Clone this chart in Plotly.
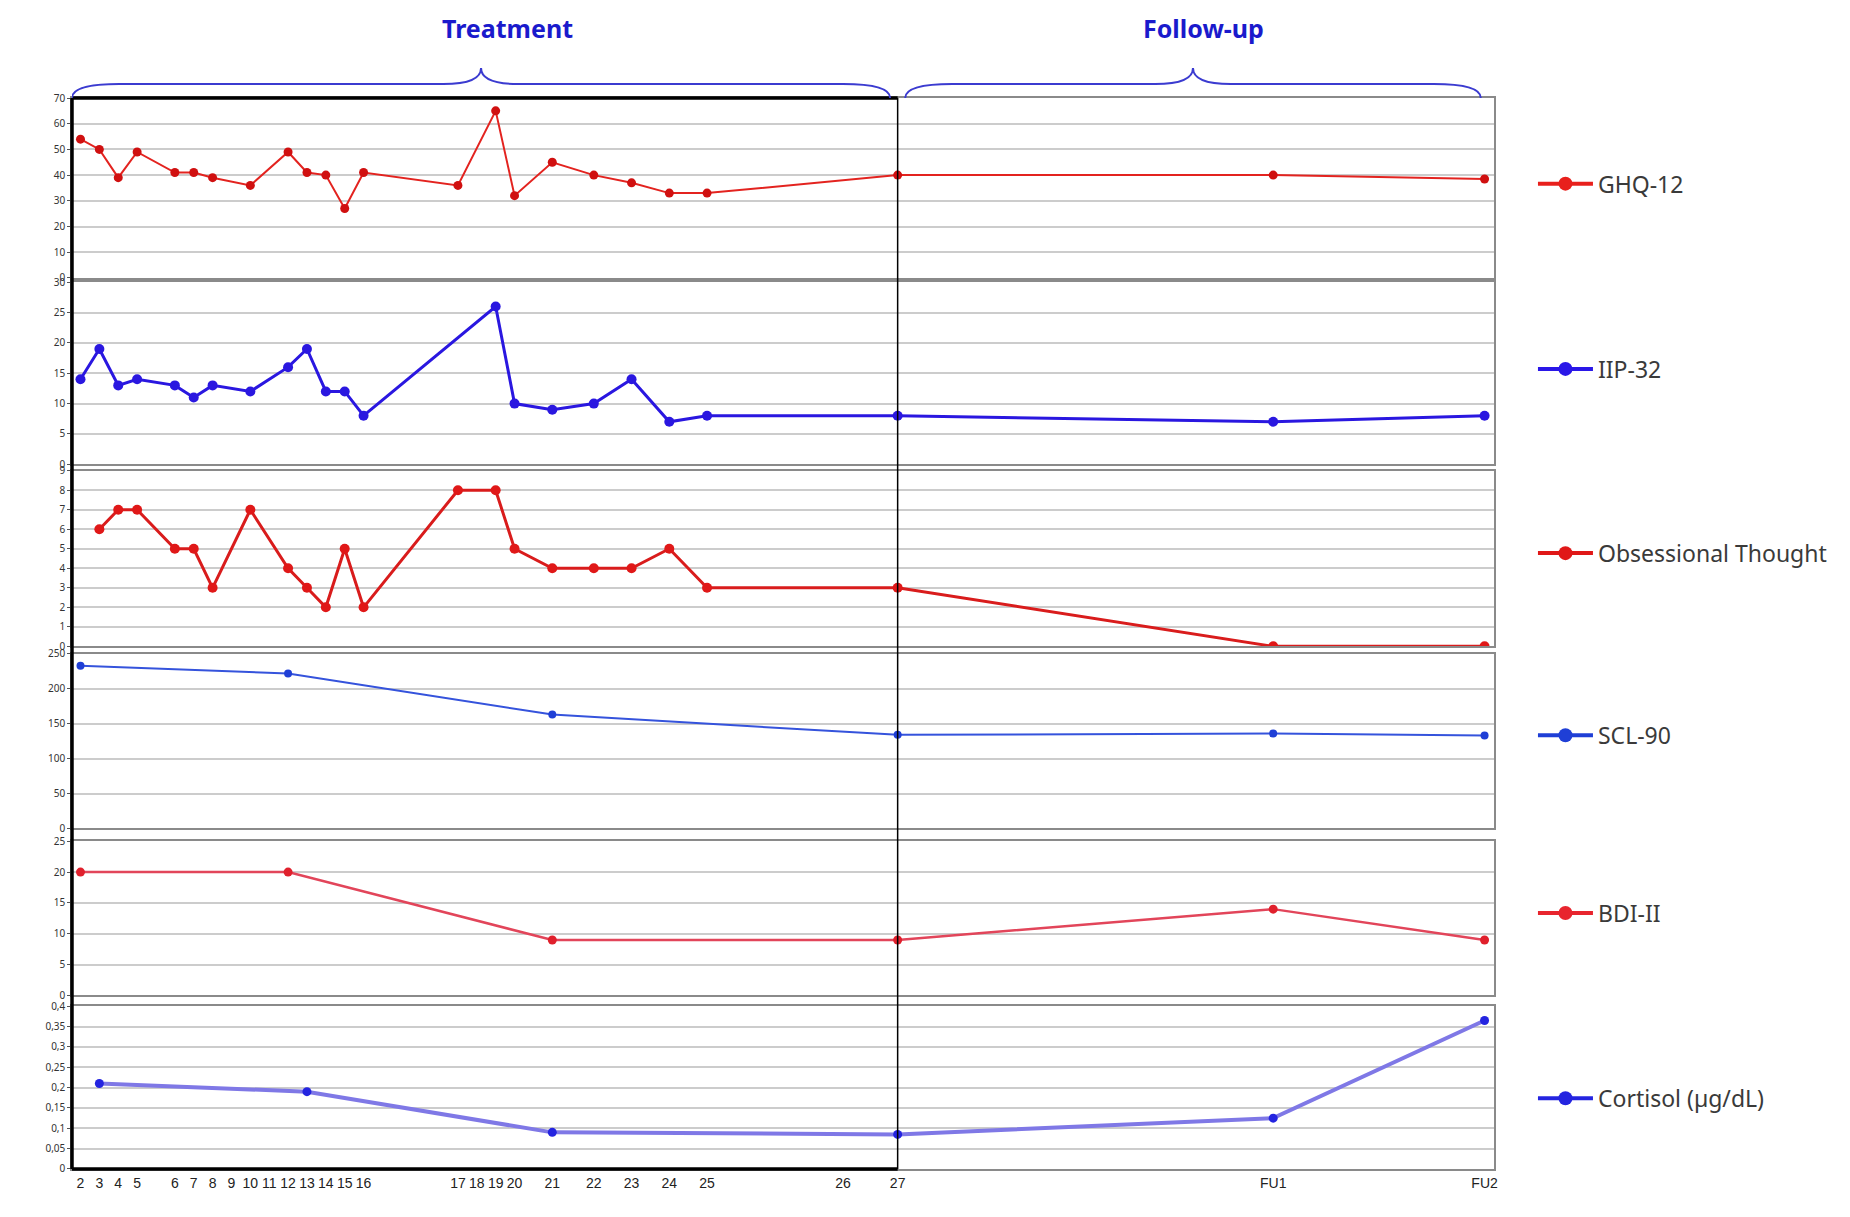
import plotly.graph_objects as go
from plotly.subplots import make_subplots

# session labels and their (approximate) position in weeks on the time axis
session_labels = ["2", "3", "4", "5", "6", "7", "8", "9", "10", "11", "12", "13", "14", "15", "16",
                  "17", "18", "19", "20", "21", "22", "23", "24", "25", "26", "27", "FU1", "FU2"]
session_pos = [0, 1, 2, 3, 5, 6, 7, 8, 9, 10, 11, 12, 13, 14, 15,
               20, 21, 22, 23, 25, 27.2, 29.2, 31.2, 33.2, 40.4, 43.3, 63.2, 74.4]
pos = dict(zip(session_labels, session_pos))

ghq_sessions = ["2", "3", "4", "5", "6", "7", "8", "10", "12", "13", "14", "15", "16", "17", "19", "20",
                "21", "22", "23", "24", "25", "27", "FU1", "FU2"]
ghq_values = [54, 50, 39, 49, 41, 41, 39, 36, 49, 41, 40, 27, 41, 36, 65, 32,
              45, 40, 37, 33, 33, 40, 40, 38.5]

iip_sessions = ["2", "3", "4", "5", "6", "7", "8", "10", "12", "13", "14", "15", "16", "19", "20",
                "21", "22", "23", "24", "25", "27", "FU1", "FU2"]
iip_values = [14, 19, 13, 14, 13, 11, 13, 12, 16, 19, 12, 12, 8, 26, 10,
              9, 10, 14, 7, 8, 8, 7, 8]

obs_sessions = ["3", "4", "5", "6", "7", "8", "10", "12", "13", "14", "15", "16", "17", "19", "20",
                "21", "22", "23", "24", "25", "27", "FU1", "FU2"]
obs_values = [6, 7, 7, 5, 5, 3, 7, 4, 3, 2, 5, 2, 8, 8, 5,
              4, 4, 4, 5, 3, 3, 0, 0]

scl_sessions = ["2", "12", "21", "27", "FU1", "FU2"]
scl_values = [233, 222, 163, 134, 136, 133]

bdi_sessions = ["2", "12", "21", "27", "FU1", "FU2"]
bdi_values = [20, 20, 9, 9, 14, 9]

cort_sessions = ["3", "13", "21", "27", "FU1", "FU2"]
cort_values = [0.21, 0.19, 0.09, 0.085, 0.125, 0.365]
cort_ticks = [0, 0.05, 0.1, 0.15, 0.2, 0.25, 0.3, 0.35, 0.4]
cort_ticktext = ["0", "0,05", "0,1", "0,15", "0,2", "0,25", "0,3", "0,35", "0,4"]

series = [
    ("GHQ-12", ghq_sessions, ghq_values, "#e3231f", "#d01010", 2, 9, [0, 70], 10),
    ("IIP-32", iip_sessions, iip_values, "#2a17e0", "#2a17e0", 3, 10, [0, 30], 5),
    ("Obsessional Thought", obs_sessions, obs_values, "#d91c1c", "#e01818", 3, 10, [0, 9], 1),
    ("SCL-90", scl_sessions, scl_values, "#3553dc", "#1f3fd6", 2, 8, [0, 250], 50),
    ("BDI-II", bdi_sessions, bdi_values, "#e2455a", "#e0202c", 2.5, 9, [0, 25], 5),
    ("Cortisol (µg/dL)", cort_sessions, cort_values, "#7f78e6", "#2424e0", 4, 9, [0, 0.4], 0.05),
]
legend_cols = ["#e8201c", "#2a17e8", "#e01818", "#1f3fd6", "#e8252e", "#2424e0"]

domains = [[0.832, 1.0], [0.658, 0.828], [0.488, 0.652], [0.318, 0.481], [0.162, 0.306], [0.0, 0.152]]
legend_y = [0.92, 0.747, 0.575, 0.405, 0.239, 0.066]

fig = make_subplots(rows=6, cols=1, shared_xaxes=True, vertical_spacing=0.01)

for i, (name, sess, vals, lcol, mcol, lw, ms, yr, dt) in enumerate(series):
    lg = "legend" if i == 0 else "legend%d" % (i + 1)
    fig.add_trace(go.Scatter(x=[pos[s] for s in sess], y=vals, mode="lines+markers", name=name,
                             line=dict(color=lcol, width=lw), marker=dict(color=mcol, size=ms),
                             showlegend=False), row=i + 1, col=1)
    # legend-only entry with the thicker symbol of the original
    fig.add_trace(go.Scatter(x=[None], y=[None], mode="lines+markers", name=name,
                             line=dict(color=legend_cols[i], width=4),
                             marker=dict(color=legend_cols[i], size=14), legend=lg),
                  row=i + 1, col=1)
    yax = dict(domain=domains[i], range=yr, dtick=dt, showgrid=True, gridcolor="#cccccc", gridwidth=2,
               showline=True, mirror=True, linecolor="#8a8a8a", linewidth=1.5, zeroline=False,
               ticks="outside", ticklen=3, tickcolor="#555", tickfont=dict(size=10, color="#333"))
    if i == 5:
        yax.update(tickvals=cort_ticks, ticktext=cort_ticktext)
    fig.update_yaxes(yax, row=i + 1, col=1)
    fig.update_layout({lg: dict(x=1.0274, y=legend_y[i], xref="paper", yref="paper", xanchor="left",
                                yanchor="middle", bgcolor="rgba(0,0,0,0)", itemwidth=55,
                                font=dict(size=23, color="#3a3a3a", family="Noto Sans"))})

fig.update_xaxes(range=[-0.45, 74.9], showgrid=False, showline=True, mirror=True, linecolor="#8a8a8a",
                 linewidth=1.5, zeroline=False)
fig.update_xaxes(tickvals=session_pos, ticktext=session_labels,
                 tickfont=dict(size=14, color="#222", family="Liberation Sans Narrow, Liberation Sans"),
                 row=6, col=1)

# treatment box
end_treat = pos["27"]
box = dict(color="black", width=3.5)
shapes = [
    dict(type="line", xref="paper", yref="paper", x0=0, x1=0, y0=0, y1=1, line=box),
    dict(type="line", xref="x", yref="paper", x0=-0.45, x1=end_treat, y0=1, y1=1, line=box),
    dict(type="line", xref="x", yref="paper", x0=-0.45, x1=end_treat, y0=0, y1=0, line=box),
    dict(type="line", xref="x", yref="paper", x0=end_treat, x1=end_treat, y0=0, y1=1,
         line=dict(color="black", width=1.5)),
]


def brace(x0, x1, yb=1.0, yh=1.013, yp=1.028, w=2.5, wm=2.0):
    xm = (x0 + x1) / 2
    return ("M %f,%f Q %f,%f %f,%f L %f,%f Q %f,%f %f,%f Q %f,%f %f,%f L %f,%f Q %f,%f %f,%f"
            % (x0, yb, x0, yh, x0 + w, yh, xm - wm, yh, xm, yh, xm, yp,
               xm, yh, xm + wm, yh, x1 - w, yh, x1, yh, x1, yb))


for a, b in [(-0.45, 42.9), (43.7, 74.2)]:
    shapes.append(dict(type="path", xref="x", yref="paper", path=brace(a, b),
                       line=dict(color="#3b3bd0", width=2)))

annotations = [
    dict(text="<b>Treatment</b>", x=22.6, y=1.083, xref="x", yref="paper", showarrow=False,
         font=dict(size=25, color="#1a1acc", family="Noto Sans")),
    dict(text="<b>Follow-up</b>", x=59.5, y=1.083, xref="x", yref="paper", showarrow=False,
         font=dict(size=25, color="#1a1acc", family="Noto Sans")),
]

fig.update_layout(width=1850, height=1217, margin=dict(l=64, r=364, t=90, b=56),
                  plot_bgcolor="white", paper_bgcolor="white", shapes=shapes, annotations=annotations,
                  separators=",.", font=dict(family="Noto Sans"), showlegend=True)

fig.write_html("out.html")
